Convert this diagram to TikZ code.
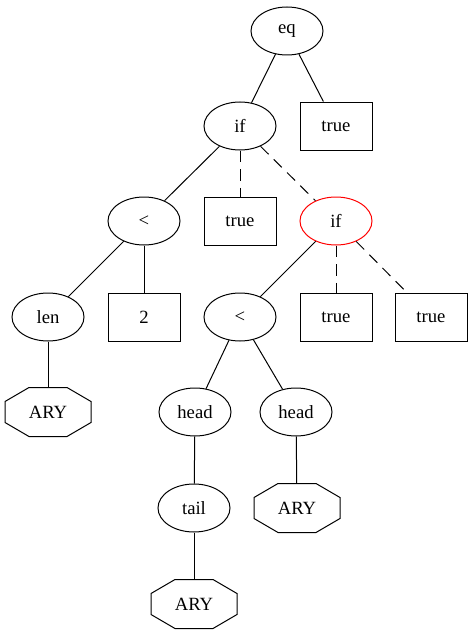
\documentclass[tikz,border=0pt]{standalone}
\usepackage{fontspec}
\setmainfont{Liberation Serif}
\usetikzlibrary{shapes.geometric}
\tikzset{
  ell/.style={draw, ellipse, minimum width=54pt, minimum height=36pt, inner sep=0pt, line width=0.75pt},
  box/.style={draw, rectangle, minimum width=54pt, minimum height=36pt, inner sep=0pt, line width=0.75pt},
  oct/.style={rectangle, minimum width=64.5pt, minimum height=36.75pt, inner sep=0pt},
  edge/.style={line width=0.75pt},
  dedge/.style={line width=0.75pt, dash pattern=on 8.5pt off 5.5pt},
}
\begin{document}
\begin{tikzpicture}[x=0.75pt, y=-0.75pt, font=\fontsize{14pt}{16pt}\selectfont]
\useasboundingbox (0,0) rectangle (473,635);
\node[ell] (eq) at (287,31) {eq};
\node[ell] (if1) at (240,126) {if};
\node[box] (t1) at (336,126) {true};
\node[ell] (lt1) at (144,221) {<};
\node[box] (t2) at (240,221) {true};
\node[ell, draw=red] (if2) at (336,221) {if};
\node[ell] (len) at (48,317) {len};
\node[box] (two) at (144,317) {2};
\node[ell] (lt2) at (240,317) {<};
\node[box] (t3) at (336,317) {true};
\node[box] (t4) at (431,317) {true};
\node[oct] (ary1) at (48,412) {ARY};
\node[ell] (head1) at (195,412) {head};
\node[ell] (head2) at (296,412) {head};
\node[ell] (tail) at (194,508) {tail};
\node[oct] (ary2) at (297,508) {ARY};
\node[oct] (ary3) at (194,604) {ARY};
\foreach \n in {ary1,ary2,ary3}{
  \draw[line width=0.75pt, shift={(\n.center)}]
    (-19,-24.5) -- (19,-24.5) -- (43,-10.5) -- (43,10.5) -- (19,24.5)
    -- (-19,24.5) -- (-43,10.5) -- (-43,-10.5) -- cycle;
}
\draw[edge] (eq) -- (if1);
\draw[edge] (eq) -- (t1);
\draw[edge] (if1) -- (lt1);
\draw[dedge] (if1) -- (t2);
\draw[dedge] (if1) -- (if2);
\draw[edge] (lt1) -- (len);
\draw[edge] (lt1) -- (two);
\draw[edge] (if2) -- (lt2);
\draw[dedge] (if2) -- (t3);
\draw[dedge] (if2) -- (t4);
\draw[edge] (len) -- (ary1);
\draw[edge] (lt2) -- (head1);
\draw[edge] (lt2) -- (head2);
\draw[edge] (head1) -- (tail);
\draw[edge] (head2) -- (ary2);
\draw[edge] (tail) -- (ary3);
\end{tikzpicture}
\end{document}
